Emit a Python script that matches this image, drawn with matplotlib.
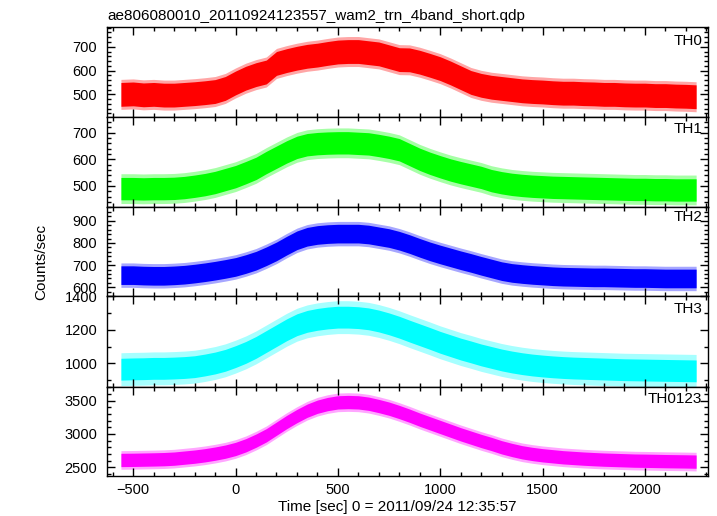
import numpy as np
import matplotlib
matplotlib.use("Agg")
import matplotlib.pyplot as plt
from matplotlib.ticker import MultipleLocator

plt.rcParams["font.family"] = ["Liberation Sans", "DejaVu Sans"]

# ---- data (bin centres every 50 s) ----
time_s = [-560, -500, -450, -400, -350, -300, -250, -200, -150, -100, -50,
          0, 50, 100, 150, 200, 250, 300, 350, 400, 450, 500, 550, 600, 650,
          700, 750, 800, 850, 900, 950, 1000, 1050, 1100, 1150, 1200, 1250,
          1300, 1350, 1400, 1450, 1500, 1550, 1600, 1650, 1700, 1750, 1800,
          1850, 1900, 1950, 2000, 2050, 2100, 2150, 2200, 2250]

th0_rate = [500, 502, 498, 500, 497, 497, 500, 503, 507, 512, 525,
            548, 568, 583, 594, 630, 642, 652, 660, 665, 672, 678, 680, 680, 675,
            670, 658, 646, 645, 635, 622, 608, 590, 570, 550, 538, 530,
            525, 520, 515, 512, 510, 507, 505, 505, 503, 502, 500,
            500, 498, 497, 497, 495, 495, 493, 492, 490]

th1_rate = [490, 490, 489, 490, 490, 491, 494, 499, 505, 513, 524,
            535, 550, 566, 588, 608, 628, 645, 655, 659, 661, 662, 662, 660, 658,
            652, 645, 636, 618, 600, 585, 572, 560, 550, 541, 532, 520,
            512, 506, 502, 499, 497, 495, 494, 493, 492, 491, 490,
            489, 488, 487, 487, 486, 486, 485, 485, 485]

th2_rate = [655, 655, 653, 652, 652, 654, 657, 662, 668, 675, 683,
            692, 705, 720, 740, 762, 788, 812, 828, 836, 840, 842, 842, 842, 838,
            830, 822, 810, 795, 778, 762, 748, 735, 722, 710, 697, 685,
            673, 665, 660, 656, 653, 650, 648, 647, 646, 645, 645,
            644, 643, 642, 642, 641, 640, 640, 640, 640]

th3_rate = [965, 967, 968, 970, 970, 972, 975, 980, 990, 1002, 1018,
            1040, 1065, 1095, 1130, 1165, 1200, 1230, 1250, 1262, 1270, 1275, 1275, 1272, 1265,
            1252, 1235, 1215, 1192, 1170, 1148, 1125, 1105, 1085, 1068, 1050, 1035,
            1020, 1008, 998, 990, 984, 979, 975, 972, 970, 968, 966,
            964, 962, 961, 960, 959, 958, 957, 956, 955]

th0123_rate = [2610, 2612, 2615, 2618, 2622, 2630, 2645, 2660, 2680, 2705, 2735,
               2775, 2830, 2900, 2980, 3080, 3180, 3270, 3350, 3410, 3450, 3475, 3480, 3475, 3455,
               3420, 3380, 3330, 3275, 3215, 3160, 3105, 3050, 2995, 2945, 2895, 2850,
               2800, 2760, 2725, 2700, 2680, 2665, 2650, 2640, 2630, 2622, 2615,
               2610, 2605, 2600, 2598, 2595, 2592, 2590, 2588, 2585]

# typical scatter (half width of the dense band) and of the spikes, counts/sec
core_spread = [50, 42, 42, 65, 100]
spike_spread = [63, 56, 55, 98, 140]

bands = ["TH0", "TH1", "TH2", "TH3", "TH0123"]
rates = [th0_rate, th1_rate, th2_rate, th3_rate, th0123_rate]
colors = ["#ff0000", "#00ff00", "#0000ff", "#00ffff", "#ff00ff"]
ylims = [(405, 783), (421, 759), (561, 962), (859, 1401), (2369, 3706)]
major = [100, 100, 100, 200, 500]
minor = [20, 20, 20, 100, 100]

# ---- layout (pixels of the 717x516 figure) ----
W, H = 717, 516
left_px, right_px = 107, 708
edges_px = [27, 117, 207, 296, 387, 476]
label_base_px = [45, 133, 221, 313, 403]

fig = plt.figure(figsize=(W / 100, H / 100), dpi=100)

t = np.array(time_s)
axes = []
for i in range(5):
    top, bot = edges_px[i], edges_px[i + 1]
    ax = fig.add_axes([left_px / W, 1 - bot / H, (right_px - left_px) / W, (bot - top) / H],
                      sharex=axes[0] if axes else None)
    r = np.array(rates[i])
    ax.fill_between(t, r - spike_spread[i], r + spike_spread[i], color=colors[i],
                    alpha=0.35, lw=0)
    ax.fill_between(t, r - core_spread[i], r + core_spread[i], color=colors[i], lw=0)
    ax.set_xlim(-628, 2308)
    ax.set_ylim(*ylims[i])
    ax.yaxis.set_major_locator(MultipleLocator(major[i]))
    ax.yaxis.set_minor_locator(MultipleLocator(minor[i]))
    ax.xaxis.set_major_locator(MultipleLocator(500))
    ax.xaxis.set_minor_locator(MultipleLocator(100))
    ax.tick_params(which="both", direction="in", top=True, right=True, width=1)
    ax.tick_params(which="major", length=6, labelsize=10.5)
    ax.tick_params(which="minor", length=3)
    ax.tick_params(axis="y", pad=7)
    ax.tick_params(axis="x", pad=5)
    for s in ax.spines.values():
        s.set_linewidth(1)
    if i < 4:
        ax.tick_params(labelbottom=False)
    fig.text(702 / W, 1 - label_base_px[i] / H, bands[i], ha="right", va="baseline",
             fontsize=11)
    axes.append(ax)

fig.text(left_px / W, 1 - 20 / H, "ae806080010_20110924123557_wam2_trn_4band_short.qdp",
         ha="left", va="baseline", fontsize=11)
fig.text(41 / W, 1 - 262 / H, "Counts/sec", rotation=90, ha="center", va="center",
         fontsize=11)
fig.text(397 / W, 1 - 511 / H, "Time [sec] 0 = 2011/09/24 12:35:57", ha="center",
         va="baseline", fontsize=11)

fig.savefig("out.png", dpi=100)
